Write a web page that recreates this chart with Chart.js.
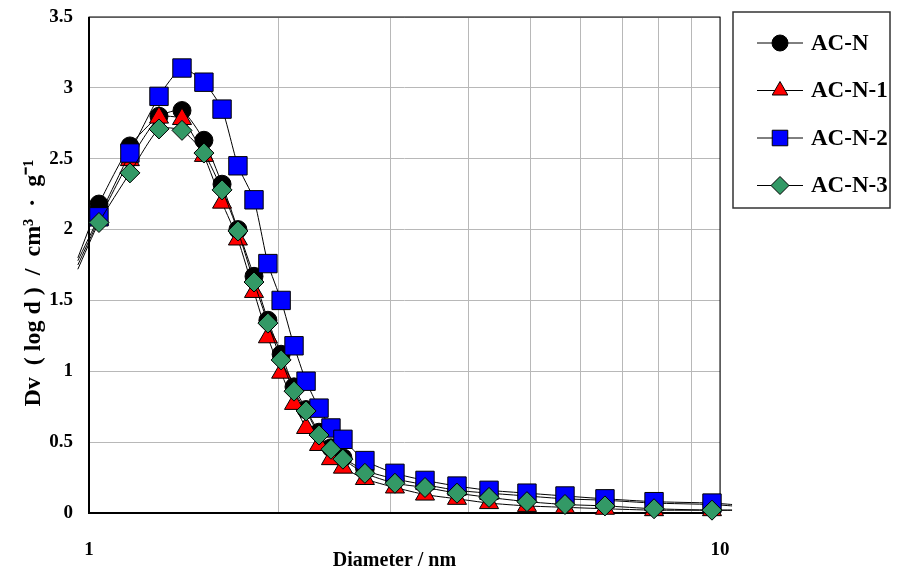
<!DOCTYPE html>
<html>
<head>
<meta charset="utf-8">
<script src="https://cdn.jsdelivr.net/npm/chart.js@4/dist/chart.umd.min.js"></script>
<style>
  body { margin: 0; background: #fff; }
  #wrap { width: 900px; height: 573px; }
</style>
</head>
<body>
<div id="wrap"><canvas id="psdChart"></canvas></div>
<script>
  // pore diameter (nm) - first and last points sit just outside the axis range
  const diameters = [0.96, 1.037, 1.161, 1.291, 1.404, 1.521, 1.625, 1.722, 1.826, 1.921, 2.016, 2.113, 2.208, 2.315,
                     2.418, 2.526, 2.737, 3.054, 3.408, 3.830, 4.305, 4.944, 5.680, 6.572, 7.861, 9.712, 10.45];

  const acN  = [1.80, 2.18, 2.59, 2.80, 2.84, 2.63, 2.32, 2.00, 1.67, 1.36, 1.12, 0.89, 0.73, 0.57,
                0.46, 0.39, 0.30, 0.24, 0.20, 0.16, 0.14, 0.12, 0.10, 0.09, 0.07, 0.06, 0.05];
  const acN1 = [1.75, 2.07, 2.49, 2.79, 2.78, 2.52, 2.19, 1.93, 1.56, 1.24, 0.99, 0.77, 0.60, 0.48,
                0.38, 0.32, 0.24, 0.18, 0.13, 0.10, 0.07, 0.05, 0.04, 0.03, 0.02, 0.02, 0.02];
  const acN2 = [1.78, 2.09, 2.54, 2.94, 3.14, 3.04, 2.85, 2.45, 2.21, 1.76, 1.50, 1.18, 0.93, 0.74,
                0.60, 0.52, 0.37, 0.28, 0.23, 0.19, 0.16, 0.14, 0.12, 0.10, 0.08, 0.07, 0.06];
  const acN3 = [1.72, 2.05, 2.40, 2.71, 2.70, 2.54, 2.28, 1.99, 1.63, 1.34, 1.08, 0.86, 0.72, 0.55,
                0.45, 0.38, 0.28, 0.21, 0.18, 0.14, 0.11, 0.08, 0.06, 0.05, 0.03, 0.02, 0.02];

  const seriesNames = ['AC-N', 'AC-N-1', 'AC-N-2', 'AC-N-3'];
  const xGridValues = [1, 2, 3, 4, 5, 6, 7, 8, 9, 10];
  const xTickLabels = [1, 10];

  const serif = '"Liberation Serif", "Times New Roman", serif';

  function makeSet(label, values, fill, style, radius, order) {
    return {
      label: label,
      data: diameters.map((d, i) => ({ x: d, y: values[i] })),
      borderColor: '#000',
      borderWidth: 1,
      backgroundColor: fill,
      pointBackgroundColor: fill,
      pointBorderColor: '#000',
      pointBorderWidth: 1,
      pointStyle: style,
      // no marker on the stubs that run past the axis
      pointRadius: ctx => (ctx.raw && (ctx.raw.x < 1 || ctx.raw.x > 10)) ? 0 : radius,
      tension: 0.2,
      clip: false,
      order: order
    };
  }

  // frame round the plot area
  const framePlugin = {
    id: 'frame',
    beforeDatasetsDraw(chart) {
      const { ctx, chartArea: a } = chart;
      ctx.save();
      ctx.strokeStyle = '#000';
      ctx.lineWidth = 1;
      ctx.strokeRect(a.left, a.top, a.right - a.left, a.bottom - a.top);
      ctx.lineWidth = 2;
      ctx.beginPath();
      ctx.moveTo(a.left, a.top);
      ctx.lineTo(a.left, a.bottom);
      ctx.lineTo(a.right, a.bottom);
      ctx.stroke();
      ctx.restore();
    }
  };

  // boxed legend with line + marker samples
  const legendPlugin = {
    id: 'boxLegend',
    afterDraw(chart) {
      const ctx = chart.ctx;
      ctx.save();
      ctx.strokeStyle = '#333';
      ctx.lineWidth = 1.5;
      ctx.strokeRect(733, 12, 157, 196);
      chart.data.datasets.forEach((ds, i) => {
        const y = 43 + i * 47.5;
        ctx.strokeStyle = '#000';
        ctx.lineWidth = 1;
        ctx.beginPath();
        ctx.moveTo(757, y);
        ctx.lineTo(803, y);
        ctx.stroke();
        ctx.fillStyle = ds.pointBackgroundColor;
        ctx.strokeStyle = '#000';
        ctx.lineWidth = 1;
        const r = ds.pointStyle === 'rect' ? 11 : ds.pointStyle === 'circle' ? 8 : 9;
        Chart.helpers.drawPoint(ctx, { pointStyle: ds.pointStyle, radius: r, rotation: 0, borderWidth: 1 }, 780, y);
        ctx.fillStyle = '#000';
        ctx.font = 'bold 23px ' + serif;
        ctx.textBaseline = 'middle';
        ctx.textAlign = 'left';
        ctx.fillText(ds.label, 811, y + 1);
      });
      ctx.restore();
    }
  };

  const ctx = document.getElementById('psdChart').getContext('2d');
  new Chart(ctx, {
    type: 'line',
    data: {
      datasets: [
        makeSet(seriesNames[0], acN,  '#000000', 'circle',   9,  3),
        makeSet(seriesNames[1], acN1, '#ff0000', 'triangle', 11, 2),
        makeSet(seriesNames[2], acN2, '#0000ff', 'rect',     13, 1),
        makeSet(seriesNames[3], acN3, '#339966', 'rectRot',  10, 0)
      ]
    },
    options: {
      responsive: true,
      maintainAspectRatio: false,
      animation: false,
      layout: { padding: { top: 0, right: 180, bottom: 0, left: 0 } },
      scales: {
        x: {
          type: 'logarithmic',
          min: 1,
          max: 10,
          afterBuildTicks: s => { s.ticks = xGridValues.map(v => ({ value: v })); },
          afterFit: s => { s.height = 60; },
          border: { display: false },
          grid: { color: '#b8b8b8', lineWidth: 1, drawTicks: false },
          ticks: {
            autoSkip: false,
            maxRotation: 0,
            padding: 26,
            color: '#000',
            font: { family: serif, size: 19, weight: 'bold' },
            callback: v => xTickLabels.includes(v) ? String(v) : ''
          },
          title: {
            display: true,
            text: 'Diameter / nm    ',
            color: '#000',
            font: { family: serif, size: 20, weight: 'bold' },
            padding: { top: 0, bottom: 0 }
          }
        },
        y: {
          min: 0,
          max: 3.5,
          afterFit: s => { s.width = 89; s.paddingTop = 17; s.paddingBottom = 0; },
          border: { display: false },
          grid: { color: '#b8b8b8', lineWidth: 1, drawTicks: false },
          ticks: {
            stepSize: 0.5,
            padding: 16,
            color: '#000',
            font: { family: serif, size: 19, weight: 'bold' },
            callback: v => String(+v)
          },
          title: {
            display: true,
            text: 'Dv  ( log d )  /  cm³  ·  g⁻¹      ',
            color: '#000',
            font: { family: serif, size: 24, weight: 'bold' },
            padding: { top: 19, bottom: 0 }
          }
        }
      },
      plugins: {
        legend: { display: false },
        tooltip: { enabled: false }
      }
    },
    plugins: [framePlugin, legendPlugin]
  });
</script>
</body>
</html>
